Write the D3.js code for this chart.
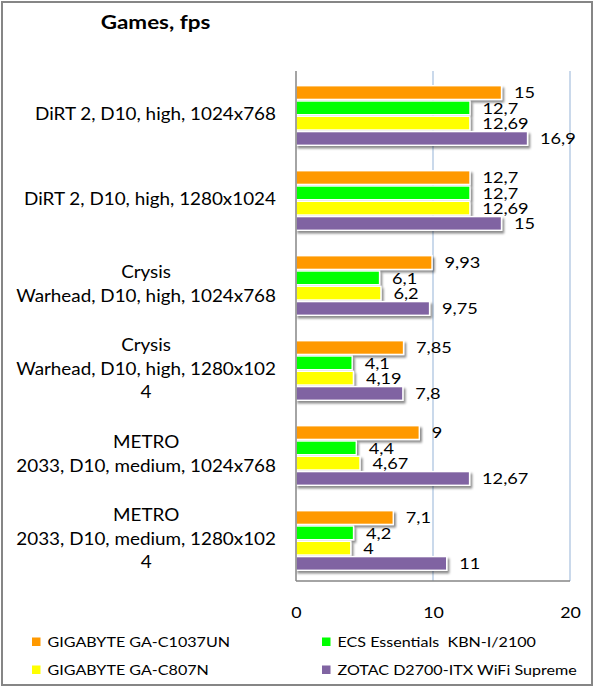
<!DOCTYPE html>
<html>
<head>
<meta charset="utf-8">
<script src="https://cdn.jsdelivr.net/npm/d3@7"></script>
<style>
  html, body { margin: 0; padding: 0; background: #fff; }
  svg { display: block; }
  text { font-family: Lato, "Open Sans", sans-serif; fill: #000; }
</style>
</head>
<body>
<svg id="chart" width="595" height="688"></svg>
<script>
// ---- data ----
const title = "Games, fps";
const categories = [
  "DiRT 2, D10, high, 1024x768",
  "DiRT 2, D10, high, 1280x1024",
  "Crysis Warhead, D10, high, 1024x768",
  "Crysis Warhead, D10, high, 1280x1024",
  "METRO 2033, D10, medium, 1024x768",
  "METRO 2033, D10, medium, 1280x1024"
];
const categoryLines = [
  ["DiRT 2, D10, high, 1024x768"],
  ["DiRT 2, D10, high, 1280x1024"],
  ["Crysis", "Warhead, D10, high, 1024x768"],
  ["Crysis", "Warhead, D10, high, 1280x102", "4"],
  ["METRO", "2033, D10, medium, 1024x768"],
  ["METRO", "2033, D10, medium, 1280x102", "4"]
];
const seriesNames = [
  "GIGABYTE GA-C1037UN",
  "ECS Essentials  KBN-I/2100",
  "GIGABYTE GA-C807N",
  "ZOTAC D2700-ITX WiFi Supreme"
];
const seriesColors = ["#FF9900", "#00FF00", "#FFFF00", "#8064A2"];
const gigabyteC1037 = [15, 12.7, 9.93, 7.85, 9, 7.1];
const ecsKBN = [12.7, 12.7, 6.1, 4.1, 4.4, 4.2];
const gigabyteC807 = [12.69, 12.69, 6.2, 4.19, 4.67, 4];
const zotacD2700 = [16.9, 15, 9.75, 7.8, 12.67, 11];
const seriesValues = [gigabyteC1037, ecsKBN, gigabyteC807, zotacD2700];
const xTicks = [0, 10, 20];

// ---- layout ----
const SX = 1.15; // horizontal text stretch
const svg = d3.select("#chart");
const plot = { left: 296, right: 570, top: 71, bottom: 581 };

const defs = svg.append("defs");
const f = defs.append("filter").attr("id", "shadow")
  .attr("x", "-5%").attr("y", "-30%").attr("width", "115%").attr("height", "180%");
f.append("feDropShadow").attr("dx", 2).attr("dy", 2.5)
  .attr("stdDeviation", 1.3).attr("flood-color", "#000").attr("flood-opacity", 0.45);

function place(sel, x, y) {
  return sel.attr("x", 0).attr("y", 0)
    .attr("transform", `translate(${x},${y}) scale(${SX},1)`);
}

// border
svg.append("rect").attr("x", 2).attr("y", 2).attr("width", 590).attr("height", 683)
  .attr("fill", "#fff").attr("stroke", "#868686").attr("stroke-width", 2);

// title
place(svg.append("text").text(title)
  .attr("font-size", 19.5).attr("font-weight", "bold").attr("text-anchor", "middle"),
  155.5, 29);

const x = d3.scaleLinear().domain([0, 20]).range([plot.left, plot.right]);
const y = d3.scaleBand().domain(categories).range([plot.top, plot.bottom]);
const ySub = d3.scaleBand().domain(seriesNames)
  .range([14, 14 + 4 * 15.3]);

// gridlines
svg.append("g").selectAll("line").data(xTicks.filter(t => t > 0)).join("line")
  .attr("x1", d => x(d)).attr("x2", d => x(d))
  .attr("y1", plot.top).attr("y2", plot.bottom)
  .attr("stroke", "#B9CDE5").attr("stroke-width", 1.5);

// bars
const groups = svg.append("g").selectAll("g").data(categories).join("g")
  .attr("transform", d => `translate(0,${y(d)})`);

groups.each(function (cat, ci) {
  const g = d3.select(this);
  seriesNames.forEach((s, si) => {
    const v = seriesValues[si][ci];
    g.append("rect")
      .attr("x", x(0)).attr("y", ySub(s) + 0.7)
      .attr("width", x(v) - x(0)).attr("height", ySub.bandwidth() - 1.6)
      .attr("fill", seriesColors[si])
      .attr("stroke", "#fff").attr("stroke-width", 1.4)
      .attr("filter", "url(#shadow)");
  });
  seriesNames.forEach((s, si) => {
    const v = seriesValues[si][ci];
    place(g.append("text").text(String(v).replace(".", ","))
      .attr("font-size", 15.8).attr("dy", "0.36em"),
      x(v) + 12.5, ySub(s) + ySub.bandwidth() / 2);
  });
});

// axes lines
svg.append("line").attr("x1", plot.left).attr("x2", plot.left)
  .attr("y1", plot.top).attr("y2", plot.bottom)
  .attr("stroke", "#868686").attr("stroke-width", 1.5);
svg.append("line").attr("x1", plot.left).attr("x2", plot.right)
  .attr("y1", plot.bottom).attr("y2", plot.bottom)
  .attr("stroke", "#868686").attr("stroke-width", 1.5);

// x axis labels
const xAxis = d3.axisBottom(x).tickValues(xTicks).tickSize(0).tickPadding(0)
  .tickFormat(d3.format("d"));
const xg = svg.append("g").attr("transform", `translate(0,${plot.bottom})`).call(xAxis);
xg.select(".domain").remove();
xg.selectAll(".tick text").each(function () {
  const t = d3.select(this);
  t.attr("font-family", null).attr("font-size", 15.5).attr("fill", "#000")
    .attr("dy", "0.36em").attr("y", 0)
    .attr("transform", `translate(0,31.5) scale(${SX},1)`);
});

// category labels
const lineH = 23.5;
categories.forEach((cat, ci) => {
  const lines = categoryLines[ci];
  const cy = y(cat) + y.bandwidth() / 2 + 0.5;
  const texts = lines.map((ln, li) => {
    return svg.append("text").text(ln).attr("font-size", 16.4)
      .attr("text-anchor", "middle").attr("dy", "0.36em");
  });
  const maxW = d3.max(texts, t => t.node().getComputedTextLength()) * SX;
  const cx = 276 - maxW / 2;
  texts.forEach((t, li) => {
    place(t, cx, cy + (li - (lines.length - 1) / 2) * lineH);
  });
});

// legend
const legendPos = [[32, 642], [322, 642], [32, 670], [322, 670]];
seriesNames.forEach((s, si) => {
  const [lx, ly] = legendPos[si];
  svg.append("rect").attr("x", lx).attr("y", ly - 4.5).attr("width", 8.5).attr("height", 8.5)
    .attr("fill", seriesColors[si]);
  place(svg.append("text").text(s).attr("font-size", 14).attr("dy", "0.36em")
    .attr("xml:space", "preserve").style("white-space", "pre"),
    lx + 15.5, ly);
});
</script>
</body>
</html>
